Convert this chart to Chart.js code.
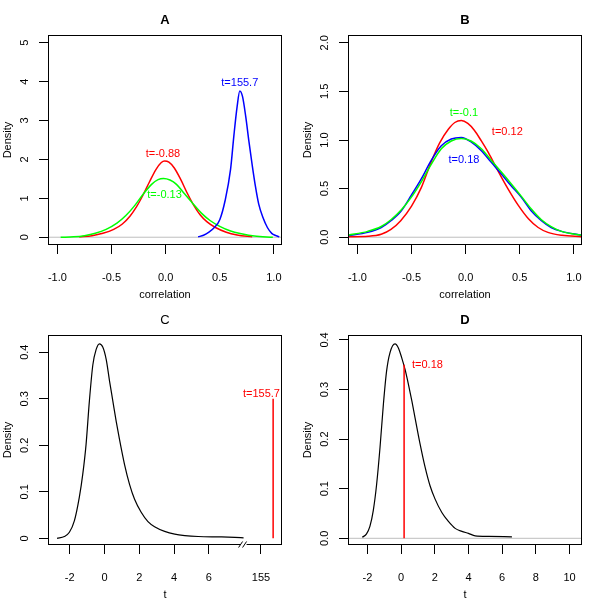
<!DOCTYPE html>
<html>
<head>
<meta charset="utf-8">
<script src="https://cdn.jsdelivr.net/npm/chart.js@4/dist/chart.umd.min.js"></script>
<style>
  html, body { margin: 0; padding: 0; background: #fff; }
  #grid { display: grid; grid-template-columns: 300px 300px; grid-template-rows: 300px 300px; width: 600px; height: 600px; }
  canvas { display: block; }
</style>
</head>
<body>
<div id="grid">
  <div><canvas id="panel-a" width="300" height="300"></canvas></div>
  <div><canvas id="panel-b" width="300" height="300"></canvas></div>
  <div><canvas id="panel-c" width="300" height="300"></canvas></div>
  <div><canvas id="panel-d" width="300" height="300"></canvas></div>
</div>
<script>
// ---- data ----
// panel A: correlation densities
const aRedX   = [-0.80, -0.68, -0.58, -0.48, -0.40, -0.33, -0.27, -0.21, -0.15, -0.09, -0.04, -0.01, 0.03, 0.08, 0.14, 0.20, 0.26, 0.32, 0.38, 0.46, 0.56, 0.66, 0.80];
const aRedY   = [0.01, 0.04, 0.10, 0.20, 0.34, 0.54, 0.78, 1.08, 1.42, 1.74, 1.92, 1.96, 1.93, 1.78, 1.48, 1.13, 0.82, 0.57, 0.40, 0.25, 0.13, 0.06, 0.01];
const aGreenX = [-0.97, -0.85, -0.75, -0.65, -0.55, -0.45, -0.37, -0.29, -0.21, -0.13, -0.07, -0.02, 0.04, 0.10, 0.17, 0.25, 0.33, 0.41, 0.50, 0.60, 0.70, 0.82, 0.99];
const aGreenY = [0, 0.01, 0.04, 0.10, 0.20, 0.36, 0.55, 0.80, 1.10, 1.36, 1.48, 1.51, 1.47, 1.36, 1.13, 0.87, 0.62, 0.43, 0.28, 0.16, 0.09, 0.03, 0];
const aBlueX  = [0.30, 0.35, 0.40, 0.45, 0.50, 0.55, 0.60, 0.63, 0.66, 0.685, 0.71, 0.74, 0.77, 0.80, 0.83, 0.86, 0.90, 0.94, 0.98, 1.02, 1.05];
const aBlueY  = [0.01, 0.05, 0.13, 0.25, 0.45, 0.95, 1.75, 2.60, 3.35, 3.76, 3.62, 3.10, 2.45, 1.85, 1.30, 0.85, 0.50, 0.25, 0.10, 0.04, 0.01];

// panel B
const bRedX   = [-1.09, -0.90, -0.78, -0.69, -0.60, -0.50, -0.41, -0.32, -0.24, -0.16, -0.10, -0.04, 0.02, 0.08, 0.145, 0.21, 0.30, 0.39, 0.485, 0.58, 0.67, 0.76, 0.89, 1.07];
const bRedY   = [0.005, 0.01, 0.03, 0.08, 0.17, 0.32, 0.51, 0.77, 0.97, 1.11, 1.18, 1.20, 1.17, 1.10, 0.99, 0.87, 0.68, 0.50, 0.33, 0.19, 0.10, 0.05, 0.02, 0.005];
const bSharedX = [-1.09, -0.905, -0.78, -0.69, -0.596, -0.503, -0.41, -0.318, -0.225, -0.133, -0.04, 0.05, 0.145, 0.237, 0.33, 0.42, 0.515, 0.607, 0.70, 0.79, 0.886, 1.07];
const bBlueY  = [0.015, 0.05, 0.10, 0.17, 0.27, 0.43, 0.60, 0.79, 0.94, 1.01, 1.026, 0.98, 0.89, 0.77, 0.65, 0.53, 0.41, 0.27, 0.17, 0.10, 0.06, 0.02];
const bGreenY = [0.02, 0.06, 0.11, 0.18, 0.28, 0.41, 0.57, 0.75, 0.91, 0.99, 1.016, 0.99, 0.91, 0.79, 0.67, 0.55, 0.42, 0.29, 0.18, 0.11, 0.06, 0.02];

// panel C: t density, axis broken at 8, values above the break shifted by 146
const cDensX = [-2.73, -2.31, -2.02, -1.73, -1.45, -1.25, -1.06, -0.87, -0.67, -0.48, -0.29, -0.10, 0.10, 0.29, 0.48, 0.67, 0.86, 1.15, 1.44, 1.73, 2.11, 2.50, 2.88, 3.46, 4.04, 4.62, 5.39, 6.73, 7.50, 8.00];
const cDensY = [0, 0.004, 0.013, 0.038, 0.088, 0.138, 0.202, 0.295, 0.373, 0.406, 0.418, 0.411, 0.384, 0.338, 0.295, 0.252, 0.213, 0.159, 0.116, 0.084, 0.056, 0.036, 0.025, 0.015, 0.009, 0.006, 0.004, 0.003, 0.002, 0.001];
const cBreakAt = 8;
const cBreakShift = 146;
const cObservedT = 155.7;
const cObservedH = 0.3;

// panel D
const dDensX = [-2.30, -2.05, -1.85, -1.65, -1.45, -1.25, -1.05, -0.86, -0.66, -0.36, -0.16, 0.04, 0.24, 0.44, 0.64, 0.83, 1.13, 1.43, 1.72, 2.02, 2.42, 2.81, 3.21, 3.61, 4.00, 4.40, 5.20, 6.58];
const dDensY = [0.002, 0.009, 0.024, 0.056, 0.109, 0.183, 0.270, 0.337, 0.374, 0.392, 0.384, 0.364, 0.340, 0.310, 0.277, 0.243, 0.190, 0.143, 0.106, 0.079, 0.052, 0.034, 0.020, 0.014, 0.010, 0.005, 0.004, 0.003];
const dObservedT = 0.18;
const dObservedH = 0.35;

// ticks
const corrTicks = [-1, -0.5, 0, 0.5, 1];
const corrTickLabels = ["-1.0", "-0.5", "0.0", "0.5", "1.0"];
const aYTicks = [0, 1, 2, 3, 4, 5];
const aYTickLabels = ["0", "1", "2", "3", "4", "5"];
const bYTicks = [0, 0.5, 1, 1.5, 2];
const bYTickLabels = ["0.0", "0.5", "1.0", "1.5", "2.0"];
const cXTicks = [-2, 0, 2, 4, 6, 155 - cBreakShift];
const cXTickLabels = ["-2", "0", "2", "4", "6", "155"];
const cYTicks = [0, 0.1, 0.2, 0.3, 0.4];
const cYTickLabels = ["0", "0.1", "0.2", "0.3", "0.4"];
const dXTicks = [-2, 0, 2, 4, 6, 8, 10];
const dXTickLabels = ["-2", "0", "2", "4", "6", "8", "10"];
const dYTicks = [0, 0.1, 0.2, 0.3, 0.4];
const dYTickLabels = ["0.0", "0.1", "0.2", "0.3", "0.4"];

const FONT = "'Liberation Sans', Arial, Helvetica, sans-serif";

const pts = (xs, ys) => xs.map((x, i) => ({ x: x, y: ys[i] }));

function curve(data, color, width) {
  return {
    data: data,
    borderColor: color,
    borderWidth: width || 1.5,
    pointRadius: 0,
    cubicInterpolationMode: "monotone",
    fill: false
  };
}

// R-like decorations: box, rotated y labels, titles, notes, axis break
const rDecor = {
  id: "rDecor",
  afterDraw(chart) {
    const o = chart.options.plugins.rDecor;
    const { ctx, chartArea: a, scales } = chart;
    const cx = (a.left + a.right) / 2;
    ctx.save();
    ctx.fillStyle = "#000";
    ctx.strokeStyle = "#000";
    ctx.lineWidth = 1;
    ctx.strokeRect(a.left + 0.5, a.top + 0.5, a.right - a.left - 1, a.bottom - a.top - 1);

    // y tick labels, rotated like R
    ctx.font = "11px " + FONT;
    ctx.textAlign = "center";
    ctx.textBaseline = "middle";
    scales.y.ticks.forEach((t, i) => {
      const py = scales.y.getPixelForValue(t.value);
      ctx.save();
      ctx.translate(25, py);
      ctx.rotate(-Math.PI / 2);
      ctx.fillText(o.yLabels[i], 0, 0);
      ctx.restore();
    });

    // axis titles
    ctx.save();
    ctx.translate(8, (a.top + a.bottom) / 2);
    ctx.rotate(-Math.PI / 2);
    ctx.fillText("Density", 0, 0);
    ctx.restore();
    ctx.fillText(o.xTitle, cx, 295);

    // panel title
    ctx.font = (o.bold ? "bold " : "") + "13px " + FONT;
    ctx.fillText(o.title, cx, 20);

    // notes next to curves
    ctx.font = "11px " + FONT;
    o.notes.forEach(n => {
      ctx.fillStyle = n.color;
      ctx.fillText(n.text, scales.x.getPixelForValue(n.x), scales.y.getPixelForValue(n.y));
    });

    // axis break marks
    if (o.breakAt !== undefined) {
      const px = scales.x.getPixelForValue(o.breakAt);
      const by = a.bottom - 0.5;
      ctx.fillStyle = "#fff";
      ctx.fillRect(px - 3, by - 1.5, 6, 3);
      ctx.strokeStyle = "#000";
      ctx.beginPath();
      ctx.moveTo(px - 5, by + 3); ctx.lineTo(px - 1, by - 3);
      ctx.moveTo(px - 1, by + 3); ctx.lineTo(px + 3, by - 3);
      ctx.stroke();
    }
    ctx.restore();
  }
};

function makePanel(id, p) {
  return new Chart(document.getElementById(id), {
    type: "line",
    data: { datasets: p.datasets },
    plugins: [rDecor],
    options: {
      responsive: false,
      animation: false,
      events: [],
      layout: { padding: { top: 35, right: 18, left: 0, bottom: 0 } },
      plugins: {
        legend: { display: false },
        tooltip: { enabled: false },
        rDecor: {
          title: p.title, bold: p.bold, xTitle: p.xTitle,
          yLabels: p.yLabels, notes: p.notes || [], breakAt: p.breakAt
        }
      },
      scales: {
        x: {
          type: "linear",
          min: p.xMin, max: p.xMax,
          afterFit: s => { s.height = 55; },
          afterBuildTicks: s => { s.ticks = p.xTicks.map(v => ({ value: v })); },
          border: { display: false },
          grid: { drawOnChartArea: false, drawTicks: true, tickLength: 9, color: "#000", lineWidth: 1 },
          ticks: {
            autoSkip: false, maxRotation: 0, minRotation: 0, padding: 17,
            color: "#000", font: { family: FONT, size: 11 },
            callback: (v, i) => p.xLabels[i]
          }
        },
        y: {
          type: "linear",
          min: p.yMin, max: p.yMax,
          afterFit: s => { s.width = 48; },
          afterBuildTicks: s => { s.ticks = p.yTicks.map(v => ({ value: v })); },
          border: { display: false },
          grid: { drawOnChartArea: false, drawTicks: true, tickLength: 9, color: "#000", lineWidth: 1 },
          ticks: { display: false }
        }
      }
    }
  });
}

const GRAY = "#BEBEBE";

makePanel("panel-a", {
  title: "A", bold: true, xTitle: "correlation",
  xMin: -1.087, xMax: 1.075, yMin: -0.2, yMax: 5.2,
  xTicks: corrTicks, xLabels: corrTickLabels, yTicks: aYTicks, yLabels: aYTickLabels,
  datasets: [
    curve(pts(aBlueX, aBlueY), "#0000FF"),
    curve(pts(aGreenX, aGreenY), "#00FF00"),
    curve(pts(aRedX, aRedY), "#FF0000"),
    curve([{ x: -1.087, y: 0 }, { x: 1.075, y: 0 }], GRAY, 1)
  ],
  notes: [
    { text: "t=155.7", x: 0.685, y: 3.96, color: "#0000FF" },
    { text: "t=-0.88", x: -0.025, y: 2.15, color: "#FF0000" },
    { text: "t=-0.13", x: -0.01, y: 1.09, color: "#00FF00" }
  ]
});

makePanel("panel-b", {
  title: "B", bold: true, xTitle: "correlation",
  xMin: -1.087, xMax: 1.075, yMin: -0.08, yMax: 2.08,
  xTicks: corrTicks, xLabels: corrTickLabels, yTicks: bYTicks, yLabels: bYTickLabels,
  datasets: [
    curve(pts(bSharedX, bGreenY), "#00FF00"),
    curve(pts(bSharedX, bBlueY), "#0000FF"),
    curve(pts(bRedX, bRedY), "#FF0000"),
    curve([{ x: -1.087, y: 0 }, { x: 1.075, y: 0 }], GRAY, 1)
  ],
  notes: [
    { text: "t=-0.1", x: -0.016, y: 1.28, color: "#00FF00" },
    { text: "t=0.12", x: 0.385, y: 1.087, color: "#FF0000" },
    { text: "t=0.18", x: -0.016, y: 0.79, color: "#0000FF" }
  ]
});

makePanel("panel-c", {
  title: "C", bold: false, xTitle: "t",
  xMin: -3.25, xMax: 10.21, yMin: -0.0143, yMax: 0.437,
  xTicks: cXTicks, xLabels: cXTickLabels, yTicks: cYTicks, yLabels: cYTickLabels,
  breakAt: cBreakAt,
  datasets: [
    curve([{ x: cObservedT - cBreakShift, y: 0 }, { x: cObservedT - cBreakShift, y: cObservedH }], "#FF0000", 1.5),
    curve(pts(cDensX, cDensY), "#000000", 1.2)
  ],
  notes: [
    { text: "t=155.7", x: 9.03, y: 0.311, color: "#FF0000" }
  ]
});

makePanel("panel-d", {
  title: "D", bold: true, xTitle: "t",
  xMin: -3.15, xMax: 10.74, yMin: -0.0135, yMax: 0.41,
  xTicks: dXTicks, xLabels: dXTickLabels, yTicks: dYTicks, yLabels: dYTickLabels,
  datasets: [
    curve([{ x: dObservedT, y: 0 }, { x: dObservedT, y: dObservedH }], "#FF0000", 1.5),
    curve(pts(dDensX, dDensY), "#000000", 1.2),
    curve([{ x: -3.15, y: 0 }, { x: 10.74, y: 0 }], GRAY, 1)
  ],
  notes: [
    { text: "t=0.18", x: 1.565, y: 0.35, color: "#FF0000" }
  ]
});
</script>
</body>
</html>
